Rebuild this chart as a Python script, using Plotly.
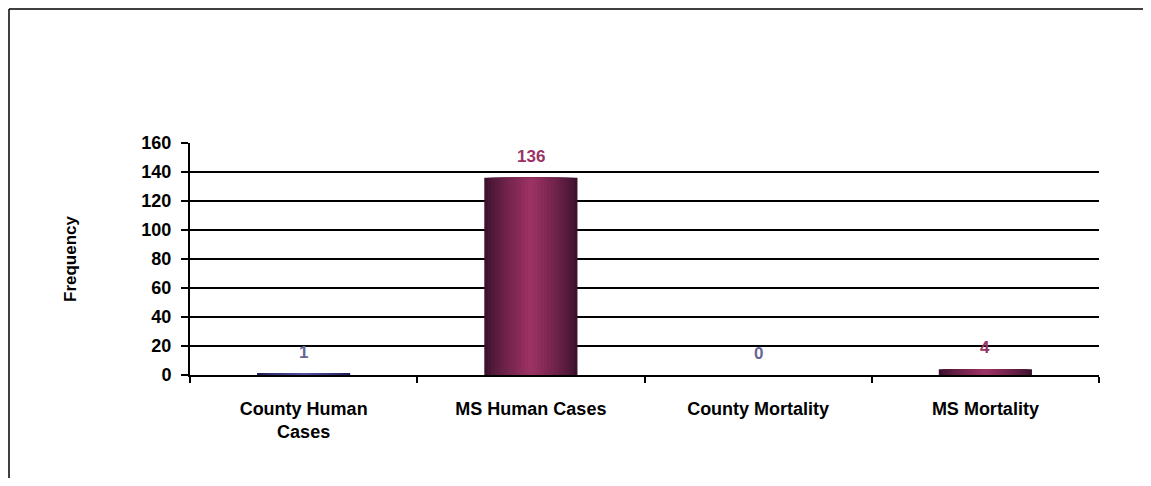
import plotly.graph_objects as go

categories = ["County Human<br>Cases", "MS Human Cases", "County Mortality", "MS Mortality"]
values = [1, 136, 0, 4]
label_colors = ["#666699", "#993366", "#666699", "#993366"]

# gradient ends per bar: (edge, center)
edge_cols = [(30, 30, 90), (60, 18, 45), (30, 30, 90), (60, 18, 45)]
center_cols = [(80, 80, 160), (155, 50, 100), (80, 80, 160), (155, 50, 100)]


def mix(a, b, t):
    return "rgb({},{},{})".format(*[int(a[i] + (b[i] - a[i]) * t) for i in range(3)])


fig = go.Figure()

# fake horizontal gradient: concentric overlaid bars, lighter towards the middle
n_layers = 14
full_w = 0.41
for k in range(n_layers):
    t = k / (n_layers - 1)
    w = full_w * (1 - t * 0.93)
    cols = [mix(edge_cols[i], center_cols[i], t ** 0.8) for i in range(len(values))]
    fig.add_bar(
        x=categories, y=values, width=w,
        marker=dict(color=cols, line=dict(width=0)),
        showlegend=False, hoverinfo="skip",
    )

# value labels above bars
for cat, v, c in zip(categories, values, label_colors):
    fig.add_annotation(x=cat, y=v, text=str(v), showarrow=False,
                       yanchor="bottom", yshift=10,
                       font=dict(family="Liberation Sans, Arial", size=17, color=c, weight="bold"))

# page body adds 8px margin all round, so the figure is shrunk to avoid scrollbars
W, H = 1135, 470
L, R, T, B = 182, 44, 135, 103
fig.update_layout(
    width=W, height=H,
    margin=dict(l=L, r=R, t=T, b=B),
    barmode="overlay",
    paper_bgcolor="white", plot_bgcolor="white",
    font=dict(family="Liberation Sans, Arial", color="black"),
)

fig.update_xaxes(
    type="category", tickson="boundaries", ticks="outside", ticklen=6,
    tickcolor="black", tickwidth=2, showline=True, linecolor="black", linewidth=2,
    showgrid=False, tickangle=0,
    tickfont=dict(size=18, family="Liberation Sans, Arial", weight="bold"),
    ticklabelstandoff=16,
)
fig.update_yaxes(
    range=[0, 160], dtick=20, ticks="outside", ticklen=7, tickcolor="black", tickwidth=2,
    showline=True, linecolor="black", linewidth=2,
    showgrid=True, gridcolor="black", gridwidth=2, zeroline=False,
    tickfont=dict(size=18, family="Liberation Sans, Arial", weight="bold"),
    ticklabelstandoff=6,
    title=dict(text="Frequency", standoff=60,
               font=dict(size=17, family="Liberation Sans, Arial", weight="bold")),
)

# outer chart frame: only left and top edges show, the rest runs off the page
pw, ph = W - L - R, H - T - B
fx0 = (1 - L) / pw
fx1 = (W - L) / pw
fy0 = -B / ph
fy1 = 1 + (T - 1) / ph
fig.add_shape(type="line", xref="paper", yref="paper", x0=fx0, x1=fx1, y0=fy1, y1=fy1,
              line=dict(color="black", width=1.5))
fig.add_shape(type="line", xref="paper", yref="paper", x0=fx0, x1=fx0, y0=fy0, y1=fy1,
              line=dict(color="black", width=1.5))

fig.write_html("out.html")
